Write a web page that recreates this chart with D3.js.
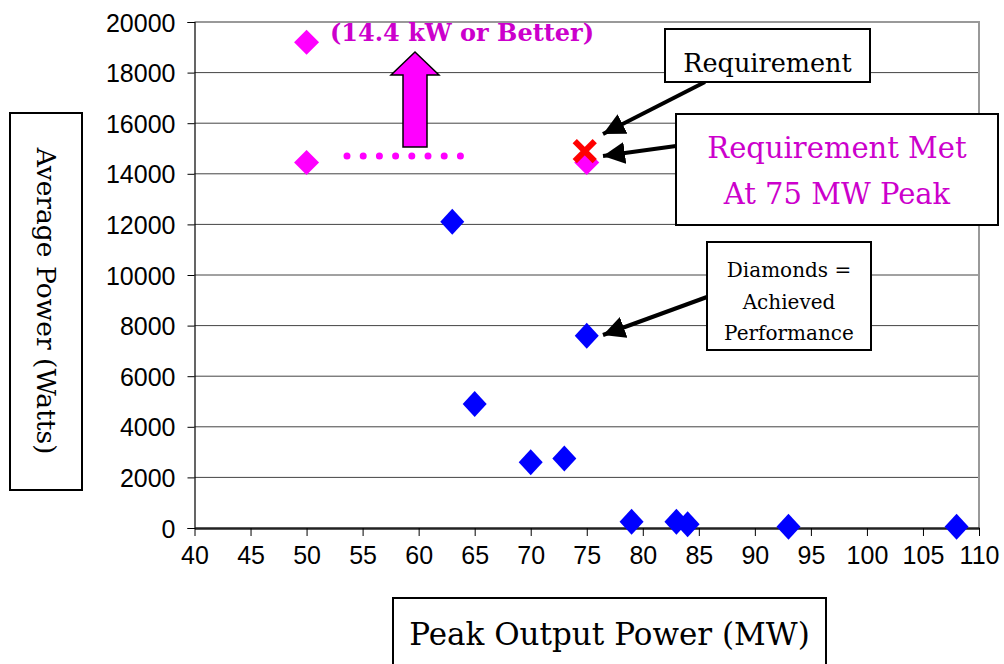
<!DOCTYPE html>
<html>
<head>
<meta charset="utf-8">
<script src="https://cdn.jsdelivr.net/npm/d3@7"></script>
<style>
	body { margin: 0; background: #fff; }
	svg { display: block; }
	.tick text { font-family: "Liberation Sans", Arial, sans-serif; font-size: 25px; fill: #000; }
	.serif { font-family: "DejaVu Serif", "Liberation Serif", serif; }
</style>
</head>
<body>
<svg id="chart" width="1004" height="664"></svg>
<script>
// achieved performance (blue diamonds)
var achievedPeak = [63, 75, 65, 70, 73, 79, 83, 84, 93, 108];
var achievedAvg = [12100, 7600, 4900, 2600, 2750, 250, 250, 150, 50, 50];

// requirement points (magenta diamonds)
var reqPeak = [50, 50, 75];
var reqAvg = [19200, 14450, 14450];

// requirement marker (red X)
var markPeak = [75];
var markAvg = [14900];

var xTicks = [40, 45, 50, 55, 60, 65, 70, 75, 80, 85, 90, 95, 100, 105, 110];
var yTicks = [0, 2000, 4000, 6000, 8000, 10000, 12000, 14000, 16000, 18000, 20000];

var svg = d3.select("#chart");

var x = d3.scaleLinear().domain([40, 110]).range([194.5, 979]);
var y = d3.scaleLinear().domain([0, 20000]).range([528, 22]);

// gridlines
svg.append("g")
	.selectAll("line")
	.data(yTicks.slice(1, -1))
	.enter()
	.append("line")
	.attr("x1", x(40))
	.attr("x2", x(110))
	.attr("y1", function (d) { return y(d); })
	.attr("y2", function (d) { return y(d); })
	.attr("stroke", "#444")
	.attr("stroke-width", 1);

// top and right border
svg.append("path")
	.attr("d", "M" + x(40) + "," + y(20000) + "H" + x(110) + "V" + y(0))
	.attr("fill", "none")
	.attr("stroke", "#999")
	.attr("stroke-width", 2);

var yAxis = svg.append("g")
	.attr("transform", "translate(" + x(40) + ",0)")
	.call(d3.axisLeft(y).tickValues(yTicks).tickSize(7).tickPadding(12).tickFormat(d3.format("d")));
yAxis.select(".domain").attr("stroke", "#000").attr("stroke-width", 1.2);
yAxis.selectAll(".tick line").attr("stroke", "#000");
yAxis.selectAll(".tick text").attr("dy", "0.36em");

var xAxis = svg.append("g")
	.attr("transform", "translate(0," + y(0) + ")")
	.call(d3.axisBottom(x).tickValues(xTicks).tickSize(8).tickPadding(10).tickSizeOuter(0));
xAxis.select(".domain").attr("stroke", "#222").attr("stroke-width", 2.5);
xAxis.selectAll(".tick line").attr("stroke", "#000");

function diamond(w, h) {
	return "M0," + (-h) + "L" + w + ",0L0," + h + "L" + (-w) + ",0Z";
}

svg.append("g")
	.selectAll("path")
	.data(d3.zip(reqPeak, reqAvg))
	.enter()
	.append("path")
	.attr("d", diamond(12.5, 12.5))
	.attr("transform", function (d) { return "translate(" + x(d[0]) + "," + y(d[1]) + ")"; })
	.attr("fill", "#ff00ff");

svg.append("g")
	.selectAll("path")
	.data(d3.zip(achievedPeak, achievedAvg))
	.enter()
	.append("path")
	.attr("d", diamond(12, 13))
	.attr("transform", function (d) { return "translate(" + x(d[0]) + "," + y(d[1]) + ")"; })
	.attr("fill", "#0000ff");

svg.append("g")
	.selectAll("path")
	.data(d3.zip(markPeak, markAvg))
	.enter()
	.append("path")
	.attr("d", "M-10,-10L10,10M-10,10L10,-10")
	.attr("transform", function (d) { return "translate(" + (x(d[0]) - 2) + "," + y(d[1]) + ")"; })
	.attr("stroke", "#ff0000")
	.attr("stroke-width", 6)
	.attr("stroke-linecap", "butt");

// dotted threshold line
svg.append("line")
	.attr("x1", 347).attr("x2", 462)
	.attr("y1", 156).attr("y2", 156)
	.attr("stroke", "#ff00ff")
	.attr("stroke-width", 7)
	.attr("stroke-linecap", "round")
	.attr("stroke-dasharray", "0,16.2");

// big up arrow
svg.append("path")
	.attr("d", "M403,147V75H391L415,52L439,75H427V147Z")
	.attr("fill", "#ff00ff")
	.attr("stroke", "#000")
	.attr("stroke-width", 1.5)
	.attr("stroke-linejoin", "miter");

svg.append("text")
	.attr("class", "serif")
	.attr("x", 330).attr("y", 41)
	.attr("font-size", 24)
	.attr("font-weight", "bold")
	.attr("fill", "#cc00cc")
	.text("(14.4 kW or Better)");

// arrow heads
svg.append("defs").append("marker")
	.attr("id", "head")
	.attr("viewBox", "0 0 10 10")
	.attr("refX", 10).attr("refY", 5)
	.attr("markerWidth", 5.5).attr("markerHeight", 5.5)
	.attr("markerUnits", "strokeWidth")
	.attr("orient", "auto")
	.append("path")
	.attr("d", "M0,0L10,5L0,10Z")
	.attr("fill", "#000");

var arrows = [[705, 82, 603, 134], [676, 146, 603, 156], [707, 297, 603, 335]];
svg.append("g")
	.selectAll("line")
	.data(arrows)
	.enter()
	.append("line")
	.attr("x1", function (d) { return d[0]; })
	.attr("y1", function (d) { return d[1]; })
	.attr("x2", function (d) { return d[2]; })
	.attr("y2", function (d) { return d[3]; })
	.attr("stroke", "#000")
	.attr("stroke-width", 4)
	.attr("marker-end", "url(#head)");

function box(x0, y0, w, h, lines, size, color, lh, base) {
	var g = svg.append("g");
	g.append("rect")
		.attr("x", x0).attr("y", y0)
		.attr("width", w).attr("height", h)
		.attr("fill", "#fff")
		.attr("stroke", "#000")
		.attr("stroke-width", 2);
	g.selectAll("text")
		.data(lines)
		.enter()
		.append("text")
		.attr("class", "serif")
		.attr("x", x0 + w / 2)
		.attr("y", function (d, i) { return base + i * lh; })
		.attr("text-anchor", "middle")
		.attr("font-size", size)
		.attr("fill", color)
		.text(function (d) { return d; });
	return g;
}

box(665, 29, 205, 53, ["Requirement"], 25.5, "#000", 0, 72);
box(676, 114, 322, 111, ["Requirement Met", "At 75 MW Peak"], 29, "#cc00cc", 46, 158);
box(707, 242, 164, 108, ["Diamonds =", "Achieved", "Performance"], 20, "#000", 31.5, 277);

// axis titles
box(393, 598, 433, 80, ["Peak Output Power (MW)"], 31, "#000", 0, 645);

svg.append("rect")
	.attr("x", 10).attr("y", 113)
	.attr("width", 72).attr("height", 377)
	.attr("fill", "#fff")
	.attr("stroke", "#000")
	.attr("stroke-width", 2);
svg.append("text")
	.attr("class", "serif")
	.attr("transform", "translate(37,301) rotate(90)")
	.attr("text-anchor", "middle")
	.attr("font-size", 26.5)
	.text("Average Power (Watts)");
</script>
</body>
</html>
